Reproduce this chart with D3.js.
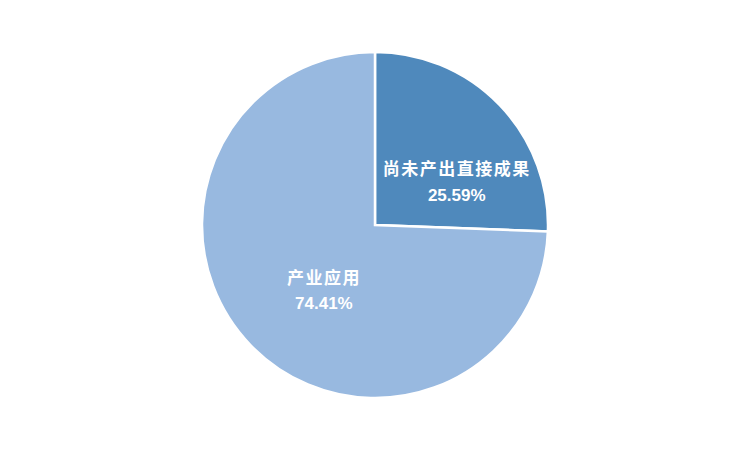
<!DOCTYPE html>
<html><head><meta charset="utf-8">
<script src="https://cdn.jsdelivr.net/npm/d3@7"></script>
<style>body{margin:0;background:#fff}svg{display:block}</style>
</head><body>
<svg id="c" width="750" height="449"></svg>
<script>
const categories = ["尚未产出直接成果", "产业应用"];
const values = [25.59, 74.41];
const labels = ["25.59%", "74.41%"];
const colors = ["#4F89BC", "#98B9E0"];

const svg = d3.select("#c");
const cx = 375, cy = 225, r = 173;
const g = svg.append("g").attr("transform", `translate(${cx},${cy})`);
const pie = d3.pie().sort(null).value(d => d.v);
const data = pie(categories.map((c, i) => ({c, v: values[i], l: labels[i], col: colors[i]})));
const arc = d3.arc().innerRadius(0).outerRadius(r);
g.selectAll("path").data(data).join("path")
  .attr("d", arc).attr("fill", d => d.data.col)
  .attr("stroke", "#fff").attr("stroke-width", 2.5).attr("stroke-linejoin", "miter");
// label anchor: polar position (angle from 12 o'clock, fraction of radius)
const anchors = [[62, 0.535], [218, 0.48]];
const lg = g.selectAll("g.lab").data(data).join("g").attr("class", "lab")
  .attr("transform", (d, i) => {
    const a = anchors[i][0] * Math.PI / 180, rr = anchors[i][1] * r;
    return `translate(${rr * Math.sin(a)},${-rr * Math.cos(a)})`;
  });
lg.append("text").attr("text-anchor", "middle").attr("y", -6.5)
  .attr("font-family", "'Noto Sans CJK SC', sans-serif").attr("font-weight", "bold")
  .attr("font-size", 17).attr("letter-spacing", 1.5).attr("fill", "#fff").text(d => d.data.c);
lg.append("text").attr("text-anchor", "middle").attr("y", 19)
  .attr("font-family", "'Liberation Sans', Arial, sans-serif").attr("font-weight", "bold")
  .attr("font-size", 17).attr("fill", "#fff").text(d => d.data.l);
</script>
</body></html>
